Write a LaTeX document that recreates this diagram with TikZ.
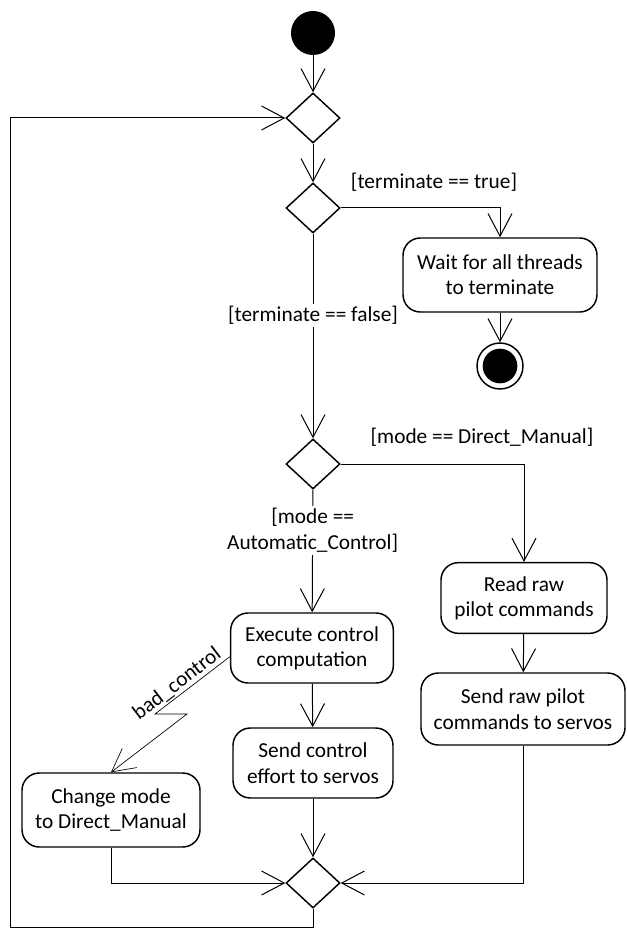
\documentclass[tikz,border=0pt]{standalone}
\usepackage{fontspec}
\setmainfont{Carlito}
\usetikzlibrary{shapes.geometric,arrows.meta}
\begin{document}
\begin{tikzpicture}[x=0.75pt, y=-0.75pt,
  font=\fontsize{16}{19}\selectfont,
  action/.style={draw, rectangle, rounded corners=13pt, line width=1.1pt,
                 align=center, inner sep=0pt},
  branch/.style={draw, diamond, line width=1.1pt, inner sep=0pt,
                 minimum width=40.5pt, minimum height=37.5pt},
  flow/.style={-{Straight Barb[length=17pt, width=18pt]}, line width=0.75pt},
  guard/.style={fill=white, align=center, inner sep=2pt}]
  \useasboundingbox (0,0) rectangle (626,937);

  % start and the two top decisions
  \node (start) [circle, fill=black, minimum size=33pt, inner sep=0pt]
                at (313,33) {};
  \node (merge1) [branch] at (313,118) {};
  \node (term)   [branch] at (313,208) {};
  \node (wait)  [action, minimum width=145.5pt, minimum height=55.5pt]
                at (500,275) {Wait for all threads\\to terminate};
  \node (endring) [circle, draw, line width=1.1pt, minimum size=34.5pt,
                inner sep=0pt] at (500,366) {};
  \node (enddot) [circle, fill=black, minimum size=26pt, inner sep=0pt]
                at (endring) {};

  % mode decision and the two branches
  \node (mode)  [branch] at (313,464) {};
  \node (readraw) [action, minimum width=124.5pt, minimum height=53pt]
                at (524,598) {Read raw\\pilot commands};
  \node (sendraw) [action, minimum width=153pt, minimum height=54pt]
                at (523,709) {Send raw pilot\\commands to servos};
  \node (exec)  [action, minimum width=122pt, minimum height=52.5pt]
                at (312,648) {Execute control\\computation};
  \node (sendctl) [action, minimum width=120pt, minimum height=52.5pt]
                at (313,763) {Send control\\effort to servos};
  \node (chmode) [action, minimum width=133.5pt, minimum height=55.5pt]
                at (111,810) {Change mode\\to Direct\_Manual};
  \node (merge2) [branch] at (313,883) {};

  \node (truelbl) at (434,182) {[terminate == true]};
  \node (dmlbl)   at (482,437) {[mode == Direct\_Manual]};

  \coordinate (zz1) at (155,714);
  \coordinate (zz2) at (187,714);
  \coordinate (loopbot) at (10,927);

  \draw[flow] (start) -- (merge1);
  \draw[flow] (merge1) -- (term);
  \draw[flow] (term.east) -| (wait.north);
  \draw[flow] (wait) -- (endring);
  \draw[flow] (term) -- node[guard, pos=0.4] {[terminate == false]} (mode);
  \draw[flow] (mode.east) -| (readraw.north);
  \draw[flow] (readraw) -- (sendraw);
  \draw[flow] (mode) -- node[guard, pos=0.33]
              {[mode ==\\Automatic\_Control]} (exec);
  \draw[flow] (exec) -- (sendctl);
  \draw[flow] (sendctl) -- (merge2);
  \draw[flow] (sendraw.south) |- (merge2.east);
  \draw[flow] (chmode.south) |- (merge2.west);
  \draw[flow] (merge2.south) |- (loopbot) |- (merge1.west);
  \draw[flow, line width=0.5pt] (exec.186)
              -- node[sloped, above, pos=0.62, inner sep=1pt] {bad\_control} (zz1)
              -- (zz2) -- (chmode.north);
\end{tikzpicture}
\end{document}
